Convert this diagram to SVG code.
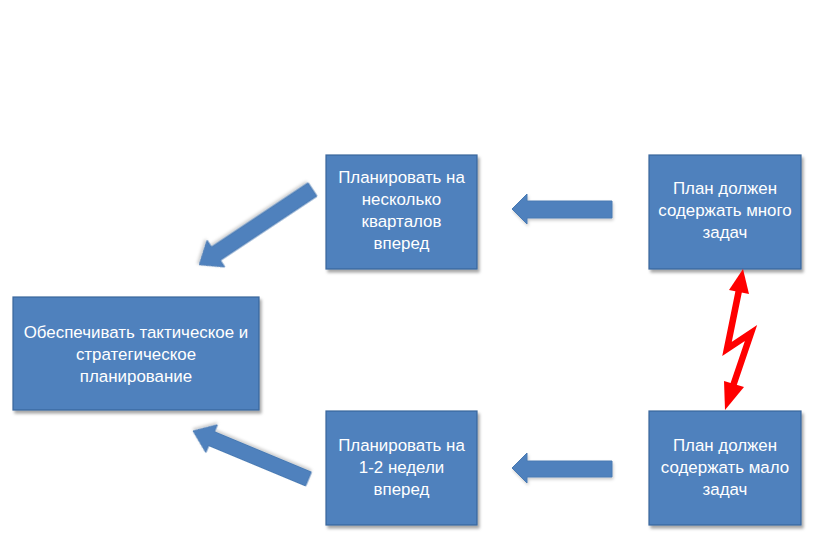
<svg xmlns="http://www.w3.org/2000/svg" width="839" height="540" viewBox="0 0 839 540">
<defs>
<filter id="sh" x="-10%" y="-10%" width="125%" height="130%">
<feDropShadow dx="2" dy="3" stdDeviation="1.8" flood-color="#000" flood-opacity="0.35"/>
</filter>
<filter id="sh2" x="-10%" y="-10%" width="125%" height="130%">
<feDropShadow dx="1" dy="2" stdDeviation="1.5" flood-color="#000" flood-opacity="0.2"/>
</filter>
</defs>
<style>
.box{fill:#4F81BD;stroke:#3A679C;stroke-width:1.2;filter:url(#sh)}
.t{fill:#fff;font-family:"Liberation Sans",Arial,sans-serif;font-size:16.9px;text-anchor:middle}
.arr{fill:#4F81BD;stroke:#4A7AB3;stroke-width:1;filter:url(#sh2)}
.bolt{fill:#FF0000}
</style>
<rect width="839" height="540" fill="#fff"/>
<g id="n-main">
<rect class="box" x="13" y="297" width="246" height="113"/>
<text class="t" x="136" y="338">Обеспечивать тактическое и</text>
<text class="t" x="136" y="360">стратегическое</text>
<text class="t" x="136" y="382">планирование</text>
</g>
<g id="n-plan-quarters">
<rect class="box" x="326" y="155" width="151" height="114"/>
<text class="t" x="401.5" y="183">Планировать на</text>
<text class="t" x="401.5" y="205">несколько</text>
<text class="t" x="401.5" y="227">кварталов</text>
<text class="t" x="401.5" y="249">вперед</text>
</g>
<g id="n-many-tasks">
<rect class="box" x="649" y="155" width="152" height="114"/>
<text class="t" x="725" y="194">План должен</text>
<text class="t" x="725" y="216">содержать много</text>
<text class="t" x="725" y="238">задач</text>
</g>
<g id="n-plan-weeks">
<rect class="box" x="326" y="411" width="151" height="114"/>
<text class="t" x="401.5" y="451">Планировать на</text>
<text class="t" x="401.5" y="473">1-2 недели</text>
<text class="t" x="401.5" y="495">вперед</text>
</g>
<g id="n-few-tasks">
<rect class="box" x="649" y="411" width="152" height="114"/>
<text class="t" x="725" y="451">План должен</text>
<text class="t" x="725" y="473">содержать мало</text>
<text class="t" x="725" y="495">задач</text>
</g>
<g id="connectors">
<path class="arr" d="M612,201 L527,201 L527,194 L512,209 L527,224 L527,218 L612,218 Z"/>
<path class="arr" d="M612,461 L527,461 L527,453 L512,468 L527,483 L527,477 L612,477 Z"/>
<path class="arr" transform="translate(312.5,189.5) rotate(146.4)" d="M0,-8 L116,-8 L116,-16 L136,0 L116,16 L116,8 L0,8 Z"/>
<path class="arr" transform="translate(308.5,479) rotate(202.6)" d="M0,-7.5 L105,-7.5 L105,-15 L125,0 L105,15 L105,7.5 L0,7.5 Z"/>
<g id="bolt">
<polyline points="739,290 727,349 751,333 733,386" fill="none" stroke="#FF0000" stroke-width="6.5" stroke-linejoin="miter" stroke-miterlimit="10"/>
<polygon class="bolt" points="743,269 749,294 729,290"/>
<polygon class="bolt" points="725,410 724,381 744,387"/>
</g>
</g>
</svg>
